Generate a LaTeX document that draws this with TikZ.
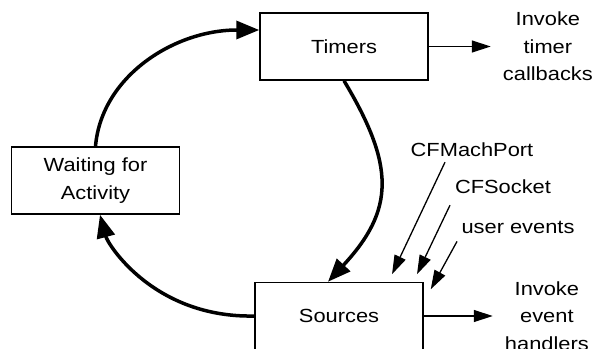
\documentclass[tikz,border=0pt]{standalone}
\usepackage{fontspec}
\setmainfont[FakeStretch=1.15]{Liberation Sans}
\usetikzlibrary{arrows.meta, positioning}
\tikzset{
  loopbox/.style={rectangle, draw=black, line width=1.5pt, minimum width=168pt,
                  minimum height=67pt, align=center, inner sep=0pt},
  outlbl/.style={align=center, inner xsep=12pt, inner ysep=2pt},
  inlbl/.style={inner sep=2pt},
  bigarr/.style={-{Triangle[length=23pt, width=18pt]}, line width=3.5pt},
  arr/.style={-{Triangle[length=19pt, width=12pt]}, line width=1.3pt},
}

\begin{document}
\begin{tikzpicture}[x=1pt, y=-1pt, every node/.style={font=\fontsize{19}{27.5}\selectfont}]
  \clip (0,0) rectangle (593,348);
  \node[loopbox] (timers) at (344,46.5) {Timers};
  \node[loopbox] (wait) at (95.5,180.5) {Waiting for\\Activity};
  \node[loopbox] (src) at (339,316) {Sources};

  \node[outlbl, right=62pt of timers] (tout) {Invoke\\timer\\callbacks};
  \node[outlbl, right=69pt of src] (sout) {Invoke\\event\\handlers};

  \node[inlbl] (mach) at (472,150) {CFMachPort};
  \node[inlbl] (sock) at (503,187) {CFSocket};
  \node[inlbl] (user) at (518,227) {user events};

  \draw[bigarr] (wait.north) .. controls +(6,-70) and +(-85,0) .. ([yshift=16.5pt]timers.west);
  \draw[bigarr] (timers.south) .. controls +(51,85) and +(67,-72) .. ([xshift=-11pt]src.north);
  \draw[bigarr] (src.west) .. controls +(-100,2) and +(8,30) .. ([xshift=4.5pt]wait.south);

  \draw[arr] (timers) -- (tout);
  \draw[arr] (src) -- (sout);

  \draw[arr] ([xshift=-27pt, yshift=-3pt]mach.south) -- ([xshift=53pt, yshift=7.5pt]src.north);
  \draw[arr] ([xshift=-53pt, yshift=-9pt]sock.south) -- ([xshift=78pt, yshift=7.5pt]src.north);
  \draw[arr] ([xshift=-61pt, yshift=-6pt]user.south) -- ([xshift=7pt, yshift=-7.5pt]src.north east);
\end{tikzpicture}
\end{document}
